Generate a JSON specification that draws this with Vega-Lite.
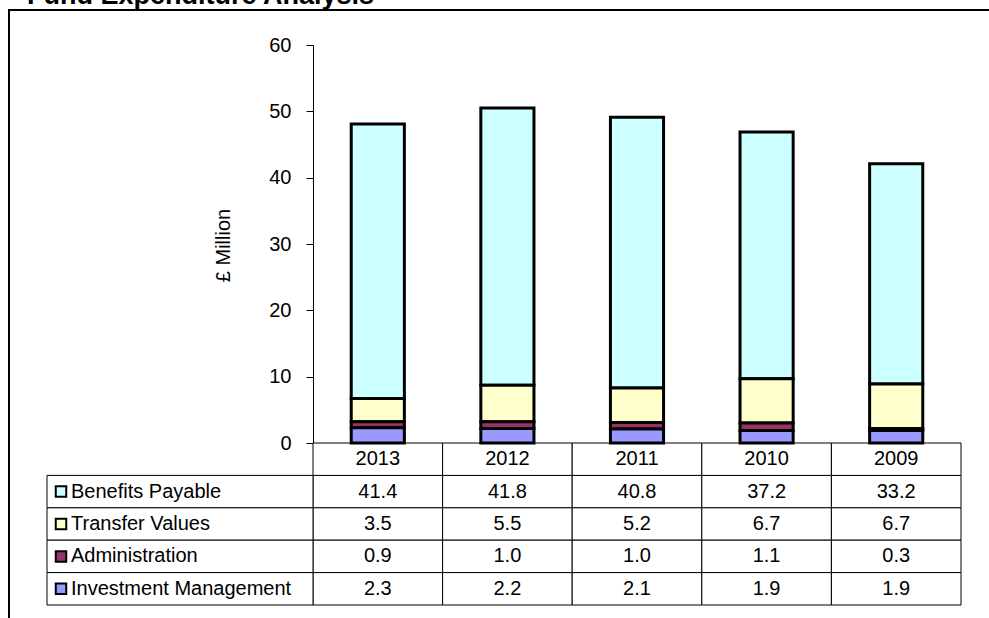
{
  "$schema": "https://vega.github.io/schema/vega-lite/v6.json",
  "width": 982,
  "height": 612,
  "autosize": {"type": "none"},
  "padding": {"left": 9, "top": 10, "right": -2, "bottom": -4},
  "background": "white",
  "config": {
    "view": {"stroke": "black", "strokeWidth": 2},
    "font": "Liberation Sans"
  },
  "title": {
    "text": "Fund Expenditure Analysis",
    "anchor": "start",
    "frame": "group",
    "font": "Liberation Sans",
    "fontSize": 27,
    "fontWeight": "bold",
    "color": "black",
    "baseline": "alphabetic",
    "offset": 0,
    "dx": 18,
    "dy": 21
  },
  "data": {
    "values": [
      {"year": "2013", "series": "Benefits Payable", "value": 41.4},
      {"year": "2013", "series": "Transfer Values", "value": 3.5},
      {"year": "2013", "series": "Administration", "value": 0.9},
      {"year": "2013", "series": "Investment Management", "value": 2.3},
      {"year": "2012", "series": "Benefits Payable", "value": 41.8},
      {"year": "2012", "series": "Transfer Values", "value": 5.5},
      {"year": "2012", "series": "Administration", "value": 1.0},
      {"year": "2012", "series": "Investment Management", "value": 2.2},
      {"year": "2011", "series": "Benefits Payable", "value": 40.8},
      {"year": "2011", "series": "Transfer Values", "value": 5.2},
      {"year": "2011", "series": "Administration", "value": 1.0},
      {"year": "2011", "series": "Investment Management", "value": 2.1},
      {"year": "2010", "series": "Benefits Payable", "value": 37.2},
      {"year": "2010", "series": "Transfer Values", "value": 6.7},
      {"year": "2010", "series": "Administration", "value": 1.1},
      {"year": "2010", "series": "Investment Management", "value": 1.9},
      {"year": "2009", "series": "Benefits Payable", "value": 33.2},
      {"year": "2009", "series": "Transfer Values", "value": 6.7},
      {"year": "2009", "series": "Administration", "value": 0.3},
      {"year": "2009", "series": "Investment Management", "value": 1.9}
    ]
  },
  "resolve": {"scale": {"x": "independent", "y": "independent"}},
  "layer": [
    {
      "encoding": {
        "x": {
          "field": "year",
          "type": "nominal",
          "sort": ["2013", "2012", "2011", "2010", "2009"],
          "scale": {"domain": ["2013", "2012", "2011", "2010", "2009"], "range": [304, 952], "paddingInner": 0, "paddingOuter": 0},
          "axis": null
        }
      },
      "layer": [
        {
          "mark": {"type": "rect", "fill": "white", "stroke": "black", "strokeWidth": 1},
          "encoding": {
            "y": {
              "field": "series",
              "type": "nominal",
              "scale": {"domain": ["header", "Benefits Payable", "Transfer Values", "Administration", "Investment Management"], "range": [433, 595], "paddingInner": 0, "paddingOuter": 0},
              "axis": null
            }
          }
        },
        {
          "mark": {"type": "text", "fontSize": 20, "baseline": "middle", "align": "center", "color": "black", "font": "Liberation Sans"},
          "encoding": {
            "y": {"field": "series", "type": "nominal"},
            "text": {"field": "value", "type": "quantitative", "format": ".1f"}
          }
        },
        {
          "transform": [{"filter": "datum.series === 'Benefits Payable'"}],
          "mark": {"type": "rect", "fill": "white", "stroke": "black", "strokeWidth": 1},
          "encoding": {"y": {"datum": "header", "type": "nominal"}}
        },
        {
          "transform": [{"filter": "datum.series === 'Benefits Payable'"}],
          "mark": {"type": "text", "fontSize": 20, "baseline": "middle", "align": "center", "color": "black", "font": "Liberation Sans"},
          "encoding": {
            "y": {"datum": "header", "type": "nominal"},
            "text": {"field": "year", "type": "nominal"}
          }
        }
      ]
    },
    {
      "transform": [{"filter": "datum.year === '2013'"}],
      "encoding": {
        "y": {
          "field": "series",
          "type": "nominal",
          "scale": {"domain": ["header", "Benefits Payable", "Transfer Values", "Administration", "Investment Management"], "range": [433, 595], "paddingInner": 0, "paddingOuter": 0},
          "axis": null
        },
        "x": {"datum": 0, "type": "quantitative", "scale": {"domain": [0, 1], "range": [38, 304], "nice": false, "zero": false}, "axis": null}
      },
      "layer": [
        {
          "mark": {"type": "rect", "fill": "white", "stroke": "black", "strokeWidth": 1},
          "encoding": {"x2": {"datum": 1}}
        },
        {
          "mark": {"type": "point", "shape": "square", "filled": true, "size": 110, "stroke": "black", "strokeWidth": 2, "opacity": 1, "xOffset": 14},
          "encoding": {
            "color": {
              "field": "series",
              "type": "nominal",
              "scale": {"domain": ["Investment Management", "Administration", "Transfer Values", "Benefits Payable"], "range": ["#9999FF", "#993366", "#FFFFCC", "#CCFFFF"]},
              "legend": null
            }
          }
        },
        {
          "mark": {"type": "text", "align": "left", "dx": 24, "fontSize": 20, "baseline": "middle", "color": "black", "font": "Liberation Sans"},
          "encoding": {"text": {"field": "series", "type": "nominal"}}
        }
      ]
    },
    {
      "transform": [
        {"calculate": "indexof(['Investment Management', 'Administration', 'Transfer Values', 'Benefits Payable'], datum.series)", "as": "stackOrder"}
      ],
      "mark": {"type": "bar", "stroke": "black", "strokeWidth": 3},
      "encoding": {
        "x": {
          "field": "year",
          "type": "nominal",
          "sort": ["2013", "2012", "2011", "2010", "2009"],
          "scale": {"domain": ["2013", "2012", "2011", "2010", "2009"], "range": [304, 952], "paddingInner": 0.59, "paddingOuter": 0.295},
          "axis": null
        },
        "y": {
          "field": "value",
          "type": "quantitative",
          "stack": "zero",
          "scale": {"domain": [0, 60], "range": [433, 35], "nice": false, "zero": true},
          "axis": {
            "orient": "left",
            "values": [0, 10, 20, 30, 40, 50, 60],
            "offset": -304,
            "grid": false,
            "title": "£ Million",
            "titleFont": "Liberation Sans",
            "titleFontSize": 20,
            "titleFontWeight": "normal",
            "titleColor": "black",
            "titleX": -90,
            "titleY": 235,
            "titleAngle": -90,
            "titleAlign": "center",
            "titleBaseline": "middle",
            "labelFont": "Liberation Sans",
            "labelFontSize": 20,
            "labelColor": "black",
            "labelPadding": 15,
            "labelFlush": false,
            "labelOverlap": false,
            "tickSize": 7,
            "tickColor": "black",
            "domainColor": "black",
            "format": "d"
          }
        },
        "order": {"field": "stackOrder", "type": "quantitative", "sort": "ascending"},
        "color": {
          "field": "series",
          "type": "nominal",
          "scale": {"domain": ["Investment Management", "Administration", "Transfer Values", "Benefits Payable"], "range": ["#9999FF", "#993366", "#FFFFCC", "#CCFFFF"]},
          "legend": null
        }
      }
    }
  ]
}
